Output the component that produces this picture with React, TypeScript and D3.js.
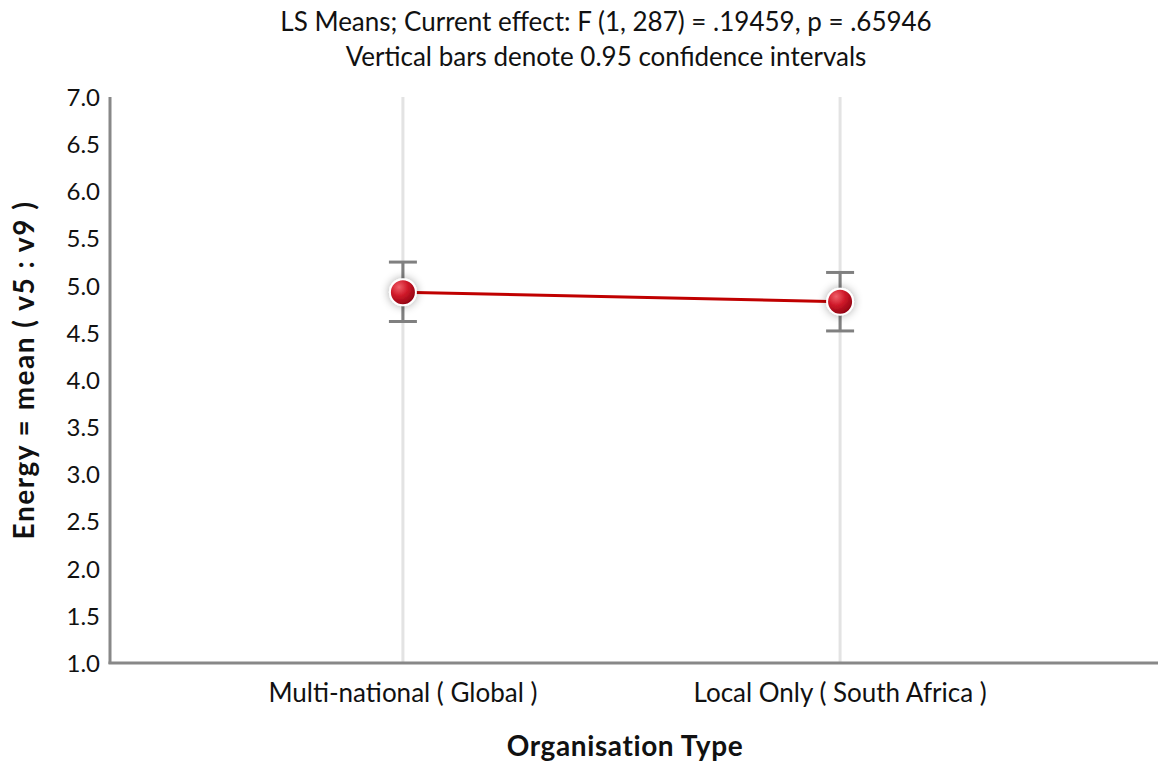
import React, { useEffect, useRef } from "react";
import * as d3 from "d3";

const categories = ["Multi-national ( Global )", "Local Only ( South Africa )"];
const means = [4.93, 4.83];
const lower = [4.62, 4.52];
const upper = [5.25, 5.14];
const yTicks = [1.0, 1.5, 2.0, 2.5, 3.0, 3.5, 4.0, 4.5, 5.0, 5.5, 6.0, 6.5, 7.0];

const titleLines = [
  "LS Means; Current effect: F (1, 287) = .19459, p = .65946",
  "Vertical bars denote 0.95 confidence intervals",
];

export default function App() {
  const ref = useRef<SVGSVGElement>(null);
  const width = 1160;
  const height = 767;
  const left = 110;
  const top = 97;
  const bottom = 663;
  const font = "Lato, 'Open Sans', sans-serif";

  useEffect(() => {
    const svg = d3.select(ref.current);
    svg.selectAll("*").remove();

    const x = d3.scalePoint<string>().domain(categories).range([left, 1133]).padding(0.67);
    const y = d3.scaleLinear().domain([1, 7]).range([bottom, top]);

    const defs = svg.append("defs");
    const grad = defs
      .append("radialGradient")
      .attr("id", "ball")
      .attr("cx", "35%")
      .attr("cy", "30%")
      .attr("r", "75%");
    grad.append("stop").attr("offset", "0%").attr("stop-color", "#f0606a");
    grad.append("stop").attr("offset", "45%").attr("stop-color", "#d01a2a");
    grad.append("stop").attr("offset", "100%").attr("stop-color", "#8a0010");
    const glow = defs.append("filter").attr("id", "glow").attr("x", "-100%").attr("y", "-100%").attr("width", "300%").attr("height", "300%");
    glow.append("feGaussianBlur").attr("in", "SourceAlpha").attr("stdDeviation", 5).attr("result", "b");
    glow.append("feComponentTransfer").attr("in", "b").attr("result", "c")
      .append("feFuncA").attr("type", "linear").attr("slope", 0.35);
    const m = glow.append("feMerge");
    m.append("feMergeNode").attr("in", "c");
    m.append("feMergeNode").attr("in", "SourceGraphic");

    // titles
    svg.selectAll(".title")
      .data(titleLines)
      .enter()
      .append("text")
      .attr("x", 606)
      .attr("y", (_, i) => 31 + i * 35)
      .attr("text-anchor", "middle")
      .attr("font-family", font)
      .attr("font-size", 26)
      .attr("fill", "#111")
      .text((d) => d);

    // vertical grid at categories
    svg.selectAll(".grid")
      .data(categories)
      .enter()
      .append("line")
      .attr("x1", (d) => x(d)!)
      .attr("x2", (d) => x(d)!)
      .attr("y1", top)
      .attr("y2", bottom)
      .attr("stroke", "#e3e3e3")
      .attr("stroke-width", 3);

    // axes
    const yAxis = svg.append("g").attr("transform", `translate(${left},0)`)
      .call(d3.axisLeft(y).tickValues(yTicks).tickFormat(d3.format(".1f")).tickSize(0).tickPadding(10));
    yAxis.select(".domain").attr("stroke", "#888").attr("stroke-width", 3).attr("d", `M0,${top}V${bottom + 1}`);
    yAxis.selectAll("text").attr("font-family", font).attr("font-size", 24).attr("fill", "#111").attr("dy", "0.35em");

    svg.append("line")
      .attr("x1", left - 1.5)
      .attr("x2", 1158)
      .attr("y1", bottom)
      .attr("y2", bottom)
      .attr("stroke", "#888")
      .attr("stroke-width", 3);

    svg.selectAll(".xlab")
      .data(categories)
      .enter()
      .append("text")
      .attr("x", (d) => x(d)!)
      .attr("y", 702)
      .attr("text-anchor", "middle")
      .attr("font-family", font)
      .attr("font-size", 26)
      .attr("fill", "#111")
      .text((d) => d);

    svg.append("text")
      .attr("x", 625)
      .attr("y", 756)
      .attr("text-anchor", "middle")
      .attr("font-family", font)
      .attr("font-size", 28)
      .attr("font-weight", "bold")
      .attr("letter-spacing", 0.6)
      .attr("fill", "#111")
      .text("Organisation Type");

    svg.append("text")
      .attr("transform", `translate(34,370) rotate(-90)`)
      .attr("text-anchor", "middle")
      .attr("font-family", font)
      .attr("font-size", 28)
      .attr("font-weight", "bold")
      .attr("letter-spacing", 1.5)
      .attr("fill", "#111")
      .text("Energy = mean ( v5 : v9 )");

    // error bars
    const eb = svg.selectAll(".eb").data(categories).enter().append("g");
    eb.append("line")
      .attr("x1", (d) => x(d)!)
      .attr("x2", (d) => x(d)!)
      .attr("y1", (_, i) => y(upper[i]))
      .attr("y2", (_, i) => y(lower[i]))
      .attr("stroke", "#808080")
      .attr("stroke-width", 3);
    [upper, lower].forEach((arr) => {
      eb.append("line")
        .attr("x1", (d) => x(d)! - 14)
        .attr("x2", (d) => x(d)! + 14)
        .attr("y1", (_, i) => y(arr[i]))
        .attr("y2", (_, i) => y(arr[i]))
        .attr("stroke", "#808080")
        .attr("stroke-width", 3);
    });

    // mean line
    const line = d3.line<number>().x((_, i) => x(categories[i])!).y((d) => y(d));
    svg.append("path")
      .attr("d", line(means))
      .attr("fill", "none")
      .attr("stroke", "#c00000")
      .attr("stroke-width", 3);

    svg.selectAll(".pt")
      .data(means)
      .enter()
      .append("circle")
      .attr("cx", (_, i) => x(categories[i])!)
      .attr("cy", (d) => y(d))
      .attr("r", 13)
      .attr("fill", "url(#ball)")
      .attr("stroke", "#fff")
      .attr("stroke-width", 2)
      .attr("filter", "url(#glow)");
  }, []);

  return (
    <svg
      ref={ref}
      width={width}
      height={height}
      style={{ position: "absolute", left: 0, top: 0, background: "#fff" }}
    ></svg>
  );
}
